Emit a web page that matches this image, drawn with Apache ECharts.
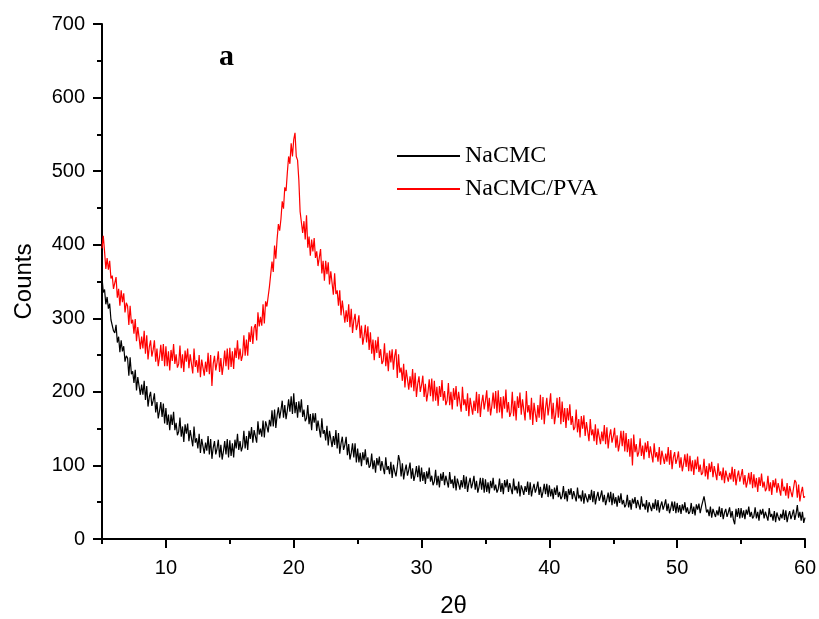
<!DOCTYPE html>
<html>
<head>
<meta charset="utf-8">
<script src="https://cdn.jsdelivr.net/npm/echarts@6/dist/echarts.min.js"></script>
<style>html,body{margin:0;padding:0;background:#fff}#c{width:819px;height:619px}</style>
</head>
<body>
<div id="c"></div>
<script>
// 2θ grid: first angle and step of the scan (degrees)
const thetaStart = 5;
const thetaStep = 0.1;
const seriesNames = ['NaCMC', 'NaCMC/PVA'];
const xTickLabels = ['10', '20', '30', '40', '50', '60'];
const yTickLabels = ['0', '100', '200', '300', '400', '500', '600', '700'];

// NaCMC counts, 5.0 .. 60.0 in steps of 0.1
const nacmc = [
356,335,339,319,329,313,320,298,300,283,
280,291,267,275,254,270,255,262,241,249,
246,222,247,224,228,212,230,202,220,208,
196,210,196,215,189,208,180,193,200,181,
188,198,172,186,164,174,186,166,184,157,
178,155,169,148,169,155,173,148,158,141,
146,165,139,153,132,156,143,157,133,148,
148,126,153,131,137,123,143,117,136,126,
116,131,120,140,115,136,109,124,133,115,
123,135,111,128,108,119,133,115,136,111,
134,113,130,111,135,123,143,121,133,119,
126,147,123,140,121,147,136,152,131,148,
150,131,160,142,150,139,161,138,160,153,
145,162,153,175,153,176,151,168,179,164,
175,188,165,182,163,175,190,173,194,170,
198,171,186,165,187,172,190,166,176,160,
164,182,156,170,148,171,158,171,147,161,
160,138,164,143,148,134,154,127,147,136,
125,140,128,148,123,144,116,130,139,121,
128,139,114,129,108,117,130,111,130,104,
123,104,117,99,118,107,122,101,111,97,
100,116,95,107,90,110,100,112,93,106,
106,88,111,94,99,88,105,83,101,92,
85,98,114,106,85,103,81,93,101,86,
94,104,82,96,79,87,99,84,100,78,
97,79,91,75,92,82,97,78,86,73,
78,94,73,86,70,89,79,91,73,86,
86,70,91,75,81,69,86,66,82,75,
67,80,70,87,68,85,64,76,83,69,
76,86,67,79,63,71,83,67,83,63,
81,64,77,62,79,69,83,66,74,63,
68,82,64,76,61,80,70,81,64,76,
77,61,82,66,72,62,78,58,73,67,
60,72,64,78,60,77,58,68,75,63,
69,78,60,71,56,64,75,61,75,57,
73,58,68,54,70,60,73,57,64,54,
58,72,54,65,51,68,60,69,54,65,
66,51,70,55,60,51,66,48,62,56,
50,61,53,67,50,65,47,57,64,52,
58,66,50,60,46,54,63,50,64,46,
62,48,57,44,59,49,62,47,53,43,
47,60,43,53,40,55,48,57,42,53,
53,40,58,44,48,40,53,36,50,44,
38,49,41,54,39,53,36,45,51,40,
46,54,38,48,35,42,51,38,51,35,
49,36,46,34,47,39,50,36,43,34,
37,49,34,44,32,47,40,48,35,44,
45,58,48,36,40,31,44,29,41,35,
30,39,32,44,30,42,27,36,41,30,
36,43,29,38,26,20,41,30,42,28,
42,29,39,27,40,33,44,30,37,28,
31,43,28,37,25,40,33,41,28,37,
38,25,42,30,34,25,38,23,36,30,
25,34,28,40,26,39,23,32,38,27,
33,40,26,34,46,29,37,25,37,22,
29
];

// NaCMC/PVA counts, 5.0 .. 60.0 in steps of 0.1
const nacmcPva = [
395,412,391,367,382,366,378,354,358,340,
339,356,328,340,317,338,322,334,308,321,
317,291,317,293,298,279,299,269,288,274,
258,275,259,283,252,277,244,261,270,248,
257,270,241,259,235,247,264,242,265,235,
262,235,255,229,257,242,265,238,251,233,
238,263,232,251,227,256,241,259,232,251,
252,225,259,234,243,226,250,220,244,233,
222,241,227,253,224,250,208,238,249,229,
240,255,227,246,223,237,256,235,259,230,
260,234,255,231,260,246,270,244,259,242,
250,277,249,271,249,281,268,289,265,287,
292,270,308,289,302,290,319,293,323,316,
315,343,342,377,363,399,381,408,428,419,
435,459,449,478,473,498,520,510,538,520,
543,552,520,515,488,445,445,416,432,407,
440,396,411,385,407,391,409,382,391,371,
372,394,361,378,351,378,360,376,346,364,
362,332,361,333,338,317,338,304,324,309,
294,311,295,319,288,313,280,297,306,284,
292,304,273,290,264,275,291,267,289,257,
281,252,271,243,270,253,275,246,258,238,
242,266,235,253,228,256,240,258,230,249,
258,219,251,226,233,215,238,206,230,217,
203,221,206,231,201,226,193,211,221,200,
209,222,193,211,187,199,217,194,218,187,
215,188,207,181,208,193,216,188,201,182,
188,212,182,200,176,205,189,208,180,200,
200,173,207,182,190,174,198,167,192,180,
169,188,174,200,171,197,166,185,196,176,
188,202,173,192,168,181,199,177,201,171,
202,172,193,164,194,177,203,172,186,166,
172,200,167,188,161,194,178,199,169,190,
192,161,201,172,182,162,192,155,185,171,
159,182,165,196,162,193,156,178,192,168,
182,198,163,185,156,170,192,165,193,156,
187,159,178,151,178,161,183,155,167,148,
152,176,145,163,138,167,150,168,140,159,
157,133,163,141,149,133,156,128,150,139,
129,146,133,155,129,152,123,140,149,131,
139,151,124,141,119,130,147,126,147,119,
144,118,136,112,137,100,142,118,129,112,
118,137,113,127,108,131,118,133,110,126,
125,104,130,111,118,105,125,101,120,111,
102,116,105,125,101,121,95,111,118,102,
109,119,97,111,92,102,115,98,116,92,
113,92,107,87,108,95,112,91,101,87,
90,109,85,99,81,103,91,105,84,99,
98,80,103,86,92,80,97,76,93,85,
78,90,81,98,78,95,73,85,93,78,
86,95,74,87,70,78,90,74,91,69,
88,70,83,64,84,72,89,70,78,65,
69,86,65,77,60,80,70,82,63,76,
77,59,82,65,71,59,76,55,72,64,
57,69,80,77,56,74,51,63,71,56,
58
];

function pairs(values) {
  return values.map((v, i) => [+(thetaStart + i * thetaStep).toFixed(1), v]);
}

const chart = echarts.init(document.getElementById('c'), null, { renderer: 'canvas' });
const axisFont = { fontFamily: 'Liberation Sans, Arial, sans-serif', fontSize: 20, color: '#000' };
const nameFont = { fontFamily: 'Liberation Sans, Arial, sans-serif', fontSize: 24, color: '#000' };
chart.setOption({
  animation: false,
  backgroundColor: '#fff',
  grid: { left: 102, right: 14, top: 24, bottom: 80, containLabel: false, outerBoundsMode: 'none' },
  legend: {
    data: seriesNames,
    orient: 'vertical',
    left: 392,
    top: 139,
    icon: 'rect',
    itemWidth: 63,
    itemHeight: 2,
    itemGap: 9,
    textStyle: { fontFamily: 'Liberation Serif, Times New Roman, serif', fontSize: 24, color: '#000' }
  },
  graphic: [{
    type: 'text',
    left: 219,
    top: 42,
    style: { text: 'a', fontFamily: 'Liberation Serif, Times New Roman, serif', fontWeight: 'bold', fontSize: 30, fill: '#000' }
  }],
  xAxis: [{
    type: 'value',
    min: 5,
    max: 60,
    splitNumber: 5,
    position: 'bottom',
    name: '2θ',
    nameLocation: 'middle',
    nameGap: 55,
    nameTextStyle: nameFont,
    axisLine: { onZero: false, lineStyle: { color: '#000', width: 2 } },
    axisTick: { inside: false, length: 9, lineStyle: { color: '#000', width: 2 } },
    axisLabel: Object.assign({ margin: 19, showMinLabel: false,
      formatter: v => xTickLabels.includes(String(v)) ? String(v) : '' }, axisFont),
    splitLine: { show: false }
  }, {
    type: 'value',
    min: 5,
    max: 60,
    splitNumber: 11,
    position: 'bottom',
    axisLine: { show: false, onZero: false },
    axisTick: { inside: false, length: 5, lineStyle: { color: '#000', width: 2 } },
    axisLabel: { show: false },
    splitLine: { show: false }
  }],
  yAxis: {
    type: 'value',
    min: 0,
    max: 700,
    interval: 100,
    name: 'Counts',
    nameLocation: 'middle',
    nameGap: 66,
    nameTextStyle: nameFont,
    axisLine: { show: true, lineStyle: { color: '#000', width: 2 } },
    axisTick: { show: true, inside: false, length: 9, lineStyle: { color: '#000', width: 2 } },
    minorTick: { show: true, splitNumber: 2, length: 5, lineStyle: { color: '#000', width: 2 } },
    axisLabel: Object.assign({ margin: 17,
      formatter: v => yTickLabels.includes(String(v)) ? String(v) : '' }, axisFont),
    splitLine: { show: false }
  },
  series: [{
    name: seriesNames[0],
    type: 'line',
    xAxisIndex: 0,
    data: pairs(nacmc),
    showSymbol: false,
    symbol: 'none',
    color: '#000000',
    lineStyle: { color: '#000000', width: 1.2 }
  }, {
    name: seriesNames[1],
    type: 'line',
    xAxisIndex: 0,
    data: pairs(nacmcPva),
    showSymbol: false,
    symbol: 'none',
    color: '#ff0000',
    lineStyle: { color: '#ff0000', width: 1.2 }
  }]
});
</script>
</body>
</html>
